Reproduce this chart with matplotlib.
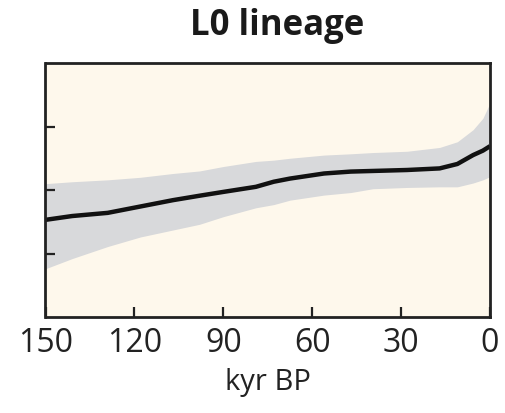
import matplotlib
matplotlib.use("Agg")
import matplotlib.pyplot as plt

plt.rcParams['font.family'] = ['Open Sans', 'DejaVu Sans']

kyr = [150, 141, 129, 118, 107, 98, 90, 79, 73, 67.5, 56, 47, 39.5, 28, 17, 11, 5.7, 2.4, 0]
center = [1.53, 1.59, 1.64, 1.74, 1.84, 1.91, 1.97, 2.05, 2.13, 2.18, 2.26, 2.29,
          2.30, 2.315, 2.34, 2.41, 2.55, 2.62, 2.69]
upper = [2.10, 2.13, 2.16, 2.20, 2.26, 2.30, 2.37, 2.45, 2.47, 2.50, 2.55, 2.57,
         2.59, 2.61, 2.67, 2.76, 2.95, 3.13, 3.37]
lower = [0.76, 0.92, 1.11, 1.26, 1.37, 1.46, 1.58, 1.72, 1.77, 1.84, 1.92, 1.96,
         2.02, 2.04, 2.05, 2.05, 2.11, 2.16, 2.21]
xticks = [150, 120, 90, 60, 30, 0]
yticks = [1, 2, 3]

fig = plt.figure(figsize=(5.06, 4.13), dpi=100)
ax = fig.add_axes([45.5/506, 96/413, 444.5/506, 254/413])
ax.set_facecolor('#FEF8EC')
ax.fill_between(kyr, lower, upper, color='#D8D9DB', lw=0)
ax.plot(kyr, center, color='#111111', lw=3.2, solid_capstyle='butt', solid_joinstyle='round')
ax.set_xlim(150, 0)
ax.set_ylim(0, 4)
ax.set_xticks(xticks)
ax.set_xticklabels([str(t) for t in xticks])
ax.set_yticks(yticks)
ax.set_yticklabels([])
for s in ax.spines.values():
    s.set_linewidth(2.0)
    s.set_color('#222222')
ax.tick_params(direction='in', length=7, width=1.6, color='#222222', labelsize=23, pad=7, labelcolor='#222222')
ax.set_xlabel('kyr BP', fontsize=21, color='#222222', labelpad=6)
fig.text(277/506, 1 - 26/413, 'L0 lineage', ha='center', va='center', fontsize=25, fontweight='bold', color='#1a1a1a')
fig.savefig('out.png', dpi=100)
